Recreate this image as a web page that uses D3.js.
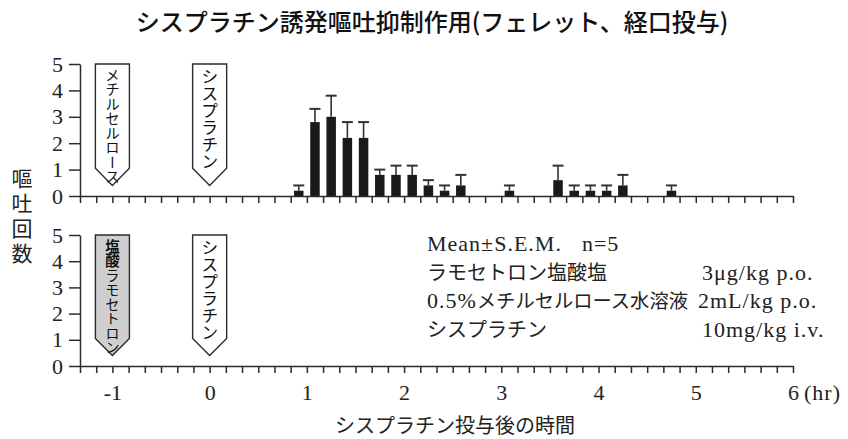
<!DOCTYPE html>
<html lang="ja">
<head>
<meta charset="utf-8">
<script src="https://cdn.jsdelivr.net/npm/d3@7"></script>
<style>
  html, body { margin: 0; padding: 0; background: #fff; }
  svg { display: block; }
</style>
</head>
<body>
<svg id="chart" width="848" height="439"></svg>
<script>
// Interval start times (minutes after cisplatin) for the control group bars
const intervalStart = [50, 60, 70, 80, 90, 100, 110, 120, 130, 140, 150, 180, 210, 220, 230, 240, 250, 280];
// Mean number of emetic episodes per 10-min interval (control: 0.5% methylcellulose)
const controlMean = [0.2, 2.8, 3.0, 2.2, 2.2, 0.8, 0.8, 0.8, 0.4, 0.2, 0.4, 0.2, 0.6, 0.2, 0.2, 0.2, 0.4, 0.2];
// S.E.M. for each interval
const controlSem = [0.2, 0.5, 0.8, 0.6, 0.6, 0.2, 0.35, 0.35, 0.2, 0.2, 0.4, 0.2, 0.55, 0.2, 0.2, 0.2, 0.4, 0.2];
// Ramosetron group: no emesis observed in any interval
const ramosetronMean = [];
const ramosetronSem = [];
const ramosetronStart = [];

const yTicks = [0, 1, 2, 3, 4, 5];
const hourTicks = [-1, 0, 1, 2, 3, 4, 5, 6];
const minorTicks = d3.range(-80, 361, 10);

// Dosing markers: [time (min), label, highlighted]
const topMarkers = [[-60, "メチルセルロース", false], [0, "シスプラチン", false]];
const bottomMarkers = [[-60, "塩酸ラモセトロン", true], [0, "シスプラチン", false]];

const legendRows = [
  ["Mean±S.E.M.　n=5", ""],
  ["ラモセトロン塩酸塩", "3μg/kg p.o."],
  ["0.5%メチルセルロース水溶液", "2mL/kg p.o."],
  ["シスプラチン", "10mg/kg i.v."]
];

const ink = "#2b2b2b";
const SERIF = '"Liberation Serif", "Times New Roman", serif';
const JP = '"Noto Sans CJK JP", sans-serif';
const svg = d3.select("#chart");

const x = d3.scaleLinear().domain([-80, 360]).range([80, 793]);
const yTop = d3.scaleLinear().domain([0, 5]).range([196, 64]);
const yBot = d3.scaleLinear().domain([0, 5]).range([366, 235]);

// Write a string as alternating Latin / Japanese runs with their own fonts
const cjk = /[\u3000-\u30ff\u4e00-\u9fff\uff00-\uffef]/;
function mixedText(sel, str, jpSize) {
  const runs = [];
  for (const ch of str) {
    const isJ = cjk.test(ch);
    if (runs.length && runs[runs.length - 1].j === isJ) runs[runs.length - 1].t += ch;
    else runs.push({ j: isJ, t: ch });
  }
  runs.forEach(r => {
    sel.append("tspan")
      .style("font-family", r.j ? JP : SERIF)
      .style("font-size", r.j ? jpSize + "px" : "22px")
      .style("letter-spacing", r.j ? "0px" : "1px")
      .text(r.t);
  });
  return sel;
}

// Title
svg.append("text")
  .attr("x", 432).attr("y", 31)
  .attr("text-anchor", "middle")
  .style("font-family", JP)
  .style("font-weight", "500")
  .style("font-size", "24px")
  .attr("fill", "#111")
  .text("シスプラチン誘発嘔吐抑制作用(フェレット、経口投与)");

function panel(y, markers, means, sems, starts) {
  const g = svg.append("g");

  // Dosing arrow markers
  markers.forEach(([t, label, hl]) => {
    const hw = 10.5;
    const pts = [
      [x(t - hw), y(5)], [x(t + hw), y(5)], [x(t + hw), y(1.05)],
      [x(t), y(0.4)], [x(t - hw), y(1.05)]
    ];
    g.append("path")
      .attr("d", d3.line()(pts) + "Z")
      .attr("fill", hl ? "#cfcfcf" : "#fff")
      .attr("stroke", ink)
      .attr("stroke-width", 1.4);
    const txt = g.append("text")
      .attr("x", x(t)).attr("y", y(5) + 4)
      .style("writing-mode", "vertical-rl")
      .style("font-family", JP)
      .style("font-size", label.length > 6 ? "14.5px" : "17px")
      .attr("fill", "#111");
    if (hl) {
      txt.append("tspan").style("font-weight", "bold").text(label.slice(0, 2));
      txt.append("tspan").text(label.slice(2));
    } else {
      txt.text(label);
    }
  });

  // Bars with upward S.E.M. whiskers
  const bw = 9.5;
  const be = g.selectAll(".bar")
    .data(starts.map((s, i) => ({ s, m: means[i], e: sems[i] })))
    .enter().append("g").attr("class", "bar");
  be.append("rect")
    .attr("x", d => x(d.s + 5) - bw / 2)
    .attr("width", bw)
    .attr("y", d => y(d.m))
    .attr("height", d => y(0) - y(d.m))
    .attr("fill", "#1a1a1a");
  be.append("line")
    .attr("x1", d => x(d.s + 5)).attr("x2", d => x(d.s + 5))
    .attr("y1", d => y(d.m)).attr("y2", d => y(d.m + d.e))
    .attr("stroke", "#333").attr("stroke-width", 1.6);
  be.append("line")
    .attr("x1", d => x(d.s + 5) - 5.5).attr("x2", d => x(d.s + 5) + 5.5)
    .attr("y1", d => y(d.m + d.e)).attr("y2", d => y(d.m + d.e))
    .attr("stroke", "#333").attr("stroke-width", 2);

  // X axis: 10-minute ticks
  const xa = g.append("g")
    .attr("transform", `translate(0,${y(0)})`)
    .call(d3.axisBottom(x).tickValues(minorTicks).tickSize(7).tickSizeOuter(0).tickFormat(""));
  xa.selectAll("path, line").attr("stroke", ink).attr("stroke-width", 1.5);

  // Y axis
  const ya = g.append("g")
    .attr("transform", `translate(${x(-80)},0)`)
    .call(d3.axisLeft(y).tickValues(yTicks).tickSize(11).tickSizeOuter(0).tickPadding(6).tickFormat(d3.format("d")));
  ya.selectAll("path, line").attr("stroke", ink).attr("stroke-width", 1.5);
  ya.selectAll("text")
    .style("font-family", SERIF)
    .style("font-size", "22px")
    .attr("fill", "#222");
  return g;
}

panel(yTop, topMarkers, controlMean, controlSem, intervalStart);
panel(yBot, bottomMarkers, ramosetronMean, ramosetronSem, ramosetronStart);

// Hour labels under the lower panel
const hl = svg.append("g")
  .attr("transform", `translate(0,${yBot(0)})`)
  .call(d3.axisBottom(x).tickValues(hourTicks.map(h => h * 60)).tickSize(0).tickPadding(18)
    .tickFormat(d => String(d / 60)));
hl.select(".domain").remove();
hl.selectAll("text")
  .style("font-family", SERIF)
  .style("font-size", "22px")
  .attr("fill", "#222");
svg.append("text")
  .attr("x", x(360) + 11).attr("y", yBot(0) + 18)
  .attr("dy", "0.71em")
  .style("font-family", SERIF)
  .style("font-size", "22px")
  .style("letter-spacing", "1px")
  .attr("fill", "#222")
  .text("(hr)");

// Axis titles
svg.append("text")
  .attr("x", 455).attr("y", 433)
  .attr("text-anchor", "middle")
  .style("font-family", JP)
  .style("font-size", "20px").attr("fill", "#222")
  .text("シスプラチン投与後の時間");

svg.append("text")
  .attr("x", 22).attr("y", 168)
  .style("writing-mode", "vertical-rl")
  .style("font-family", JP)
  .style("font-size", "21px")
  .style("letter-spacing", "4px")
  .attr("fill", "#222")
  .text("嘔吐回数");

// Dosing notes
const lg = svg.append("g").attr("fill", "#222");
legendRows.forEach(([a, b], i) => {
  const yy = 251 + i * 28.5;
  mixedText(lg.append("text").attr("x", 427).attr("y", yy), a, i === 2 ? 19.3 : 20);
  if (b) mixedText(lg.append("text").attr("x", i === 2 ? 698 : 702).attr("y", yy), b, 20);
});
</script>
</body>
</html>
